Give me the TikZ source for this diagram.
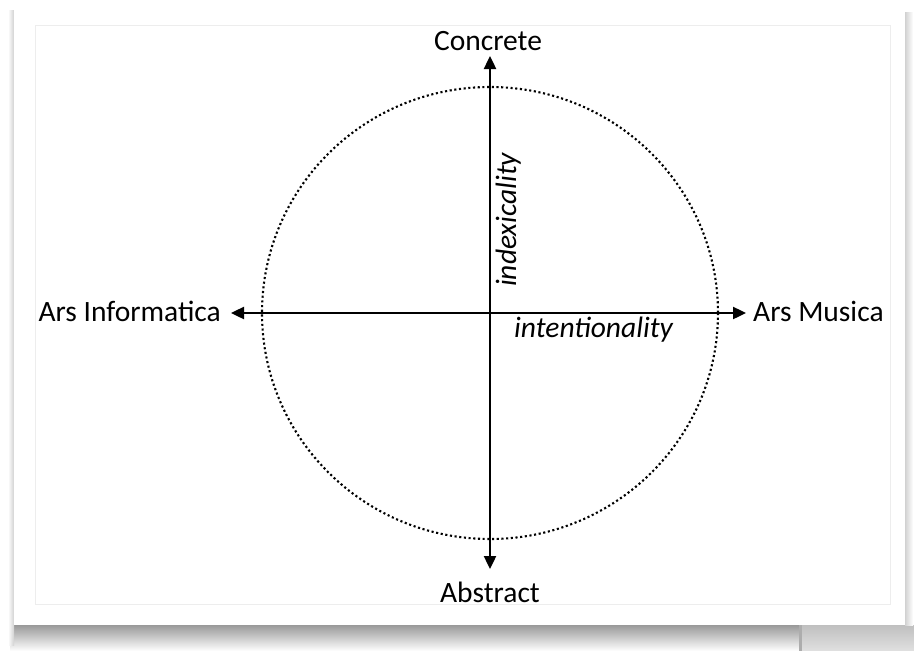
\documentclass[tikz,border=0pt]{standalone}
\usepackage{fontspec}
\setmainfont{Carlito}
\usetikzlibrary{arrows.meta}
\begin{document}
\begin{tikzpicture}[x=1pt,y=-1pt,
  lbl/.style={font=\fontsize{29.5}{31}\selectfont, inner sep=0pt},
  ilbl/.style={font=\fontsize{29.5}{31}\selectfont\itshape, inner sep=0pt},
  axis/.style={line width=2.4pt, {Triangle[length=13pt,width=12pt]}-{Triangle[length=13pt,width=12pt]}},
  dotcirc/.style={line width=2.1pt, dash pattern=on 2.1pt off 2.6pt}]
\useasboundingbox (0,0) rectangle (914,651);
\fill[white] (0,0) rectangle (914,651);
% shadows
\shade[top color=black!40, bottom color=white] (10,625) rectangle (800,651);
\shade[left color=white, right color=black!18] (8,10) rectangle (14,645);
\shade[top color=black!25, bottom color=black!12] (800,625) rectangle (914,651);
\fill[black!32] (799,625) rectangle (802,651);
\shade[left color=black!18, right color=white] (905,12) rectangle (913,625);
% paper
\fill[white] (14,4) rectangle (905,625);
\draw[black!7, line width=0.8pt] (35,25) rectangle (890,604);
% centre and axis ends
\coordinate (c) at (490,313);
\coordinate (top) at (490,56);
\coordinate (bot) at (490,569);
\coordinate (lft) at (231,313);
\coordinate (rgt) at (746,313);
% circle
\draw[dotcirc] (c) ellipse [x radius=228, y radius=226];
% axes
\draw[axis] (top) -- (bot);
\draw[axis] (lft) -- (rgt);
% labels
\node[lbl, anchor=base] (concrete) at (488,50) {Concrete};
\node[lbl, anchor=base] (abstract) at (490,602) {Abstract};
\node[lbl, anchor=base east] (info) at (221,321) {Ars Informatica};
\node[lbl, anchor=base west] (musica) at (753,321) {Ars Musica};
\node[ilbl, anchor=base west] (intent) at (514,337) {intentionality};
\node[ilbl, anchor=base west, rotate=90] (index) at (516,287) {indexicality};
\end{tikzpicture}
\end{document}
